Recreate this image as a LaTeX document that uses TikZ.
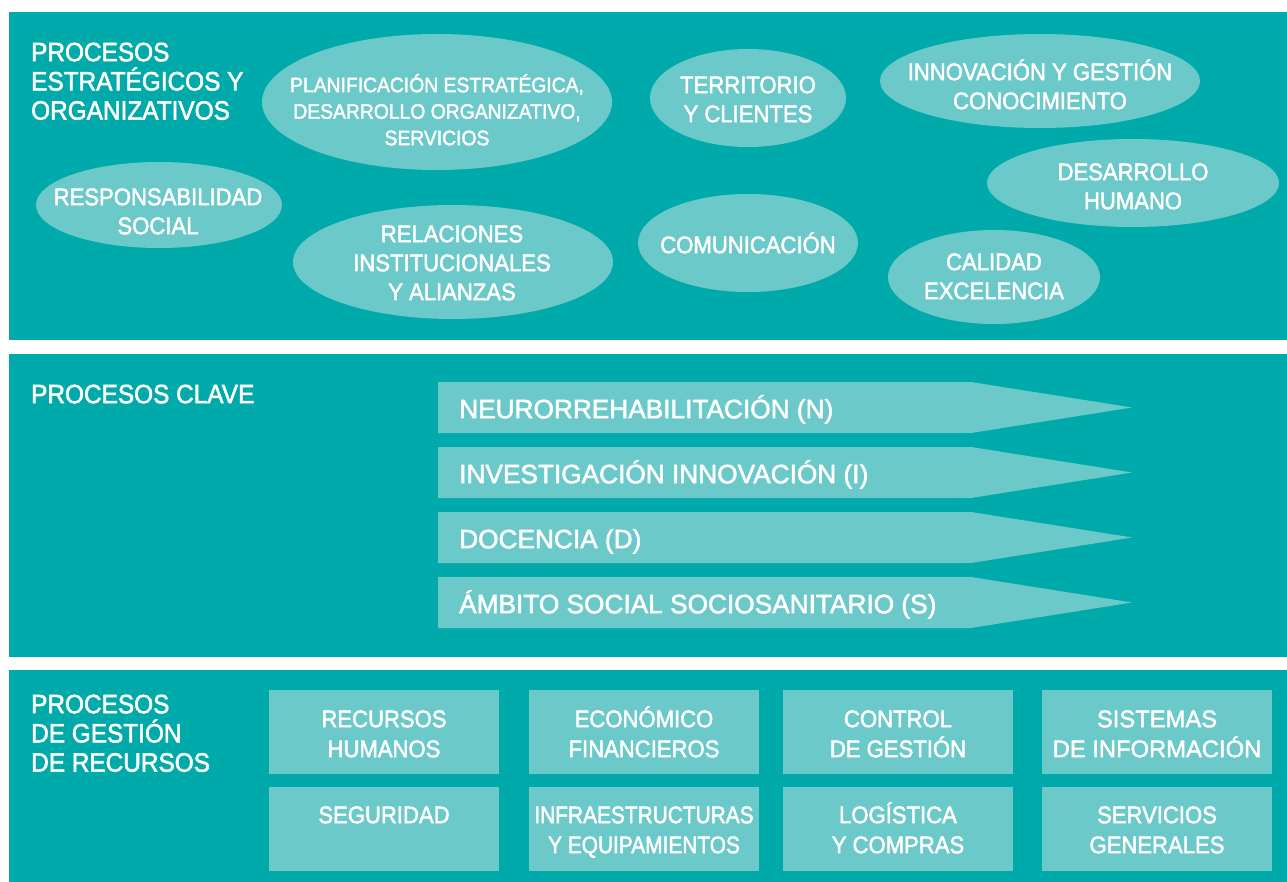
\documentclass[tikz,border=0pt]{standalone}
\usepackage{fontspec}
\setmainfont{Liberation Sans}[FakeStretch=0.92, FakeBold=2]
\newfontfamily\arrowfont{Liberation Sans}[FakeStretch=0.99, FakeBold=2]
\newfontfamily\narrowfont{Liberation Sans}[FakeStretch=0.87, FakeBold=2]
\usetikzlibrary{shapes.geometric}
\definecolor{tealbg}{RGB}{0,170,170}
\definecolor{tealli}{RGB}{108,201,201}
\newcommand\mystrut{\rule{0pt}{1.05em}}
\tikzset{
  panel/.style={fill=tealbg, draw=none},
  blob/.style={ellipse, fill=tealli, draw=none, inner sep=0pt},
  tile/.style={rectangle, fill=tealli, draw=none, inner sep=0pt, anchor=north west, minimum width=230pt, minimum height=84pt},
  wt/.style={text=white, inner sep=0pt, anchor=north, align=center},
  ttl/.style={text=white, inner sep=0pt, anchor=north west, align=left, font=\fontsize{26.5}{29.2}\selectfont},
  etx/.style={wt, font=\fontsize{24}{29}\selectfont},
  ptx/.style={wt, font=\fontsize{21}{26.5}\selectfont},
  atx/.style={text=white, inner sep=0pt, anchor=north west, font=\arrowfont\fontsize{26.5}{30}\selectfont},
  btx/.style={wt, font=\fontsize{24}{30}\selectfont},
  arrowbar/.style={fill=tealli, draw=none}
}
\begin{document}
\begin{tikzpicture}[x=1pt,y=-1pt]
\useasboundingbox (0,0) rectangle (1287,882);
% panels
\fill[panel] (9,12) rectangle (1287,340);
\fill[panel] (9,354) rectangle (1287,657);
\fill[panel] (9,670) rectangle (1287,882);

% ---------- panel 1 ----------
\node[ttl] (t1) at (31,33.2) {\mystrut PROCESOS\\ESTRATÉGICOS Y\\ORGANIZATIVOS};

\node[blob, minimum width=350pt, minimum height=136pt] (plan) at (437,102) {};
\node[ptx] (plant) at (437,70) {\mystrut PLANIFICACIÓN ESTRATÉGICA,\\DESARROLLO ORGANIZATIVO,\\SERVICIOS};

\node[blob, minimum width=246pt, minimum height=86pt] (resp) at (159,205) {};
\node[etx] (respt) at (158,179.8) {\mystrut RESPONSABILIDAD\\SOCIAL};

\node[blob, minimum width=320pt, minimum height=114pt] (rel) at (453,262) {};
\node[etx] (relt) at (452,216.8) {\mystrut RELACIONES\\INSTITUCIONALES\\Y ALIANZAS};

\node[blob, minimum width=196pt, minimum height=98pt] (terr) at (748,98) {};
\node[etx] (terrt) at (748,67.8) {\mystrut TERRITORIO\\Y CLIENTES};

\node[blob, minimum width=320pt, minimum height=94pt] (innov) at (1040,81) {};
\node[etx] (innovt) at (1040,54.8) {\mystrut INNOVACIÓN Y GESTIÓN\\CONOCIMIENTO};

\node[blob, minimum width=292pt, minimum height=88pt] (des) at (1133,183) {};
\node[etx] (dest) at (1133,154.8) {\mystrut DESARROLLO\\HUMANO};

\node[blob, minimum width=220pt, minimum height=98pt] (com) at (748,243) {};
\node[etx] (comt) at (748,227.8) {\mystrut COMUNICACIÓN};

\node[blob, minimum width=212pt, minimum height=94pt] (cal) at (994,277) {};
\node[etx] (calt) at (994,244.8) {\mystrut CALIDAD\\EXCELENCIA};

% ---------- panel 2 ----------
\node[ttl] (t2) at (31,375.2) {\mystrut PROCESOS CLAVE};

\foreach \yy/\nm/\txt in {382/n/NEURORREHABILITACIÓN (N),447/i/INVESTIGACIÓN INNOVACIÓN (I),512/d/DOCENCIA (D),577/s/ÁMBITO SOCIAL SOCIOSANITARIO (S)}{
  \fill[arrowbar] (438,\yy) -- (971,\yy) -- (1132,\yy+25.5) -- (971,\yy+51) -- (438,\yy+51) -- cycle;
  \node[atx] (a\nm) at (459,\yy+8.2) {\mystrut \txt};
}

% ---------- panel 3 ----------
\node[ttl] (t3) at (31,685.2) {\mystrut PROCESOS\\DE GESTIÓN\\DE RECURSOS};

\node[tile] (b1) at (269,690) {};
\node[tile] (b2) at (529,690) {};
\node[tile] (b3) at (783,690) {};
\node[tile] (b4) at (1042,690) {};
\node[tile] (b5) at (269,787) {};
\node[tile] (b6) at (529,787) {};
\node[tile] (b7) at (783,787) {};
\node[tile] (b8) at (1042,787) {};

\node[btx] (bt1) at (384,701.8) {\mystrut RECURSOS\\HUMANOS};
\node[btx] (bt2) at (644,701.8) {\mystrut ECONÓMICO\\FINANCIEROS};
\node[btx] (bt3) at (898,701.8) {\mystrut CONTROL\\DE GESTIÓN};
\node[btx, font=\arrowfont\fontsize{24}{30}\selectfont] (bt4) at (1157,701.8) {\mystrut SISTEMAS\\DE INFORMACIÓN};
\node[btx] (bt5) at (384,797.8) {\mystrut SEGURIDAD};
\node[btx, font=\narrowfont\fontsize{24}{30}\selectfont] (bt6) at (644,797.8) {\mystrut INFRAESTRUCTURAS\\Y EQUIPAMIENTOS};
\node[btx] (bt7) at (898,797.8) {\mystrut LOGÍSTICA\\Y COMPRAS};
\node[btx] (bt8) at (1157,797.8) {\mystrut SERVICIOS\\GENERALES};
\end{tikzpicture}
\end{document}
